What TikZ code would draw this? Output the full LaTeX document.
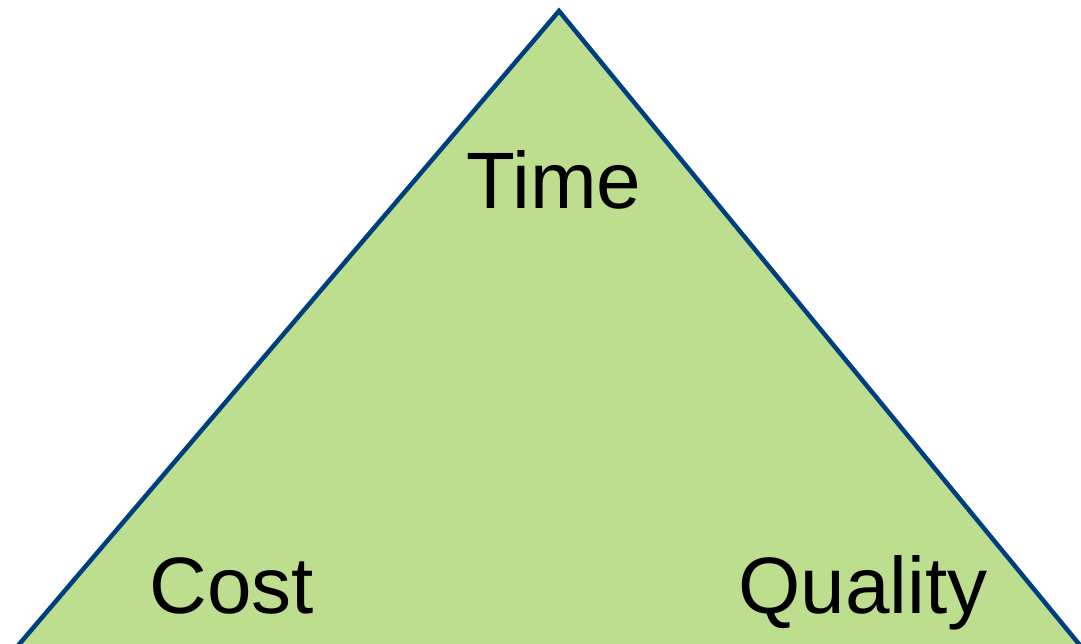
\documentclass[tikz,border=0pt]{standalone}
\usepackage{fontspec}
\setmainfont{Liberation Sans}
\definecolor{trifill}{HTML}{BDDD8F}
\definecolor{triline}{HTML}{003F7F}
\begin{document}
\begin{tikzpicture}[x=1pt,y=-1pt,
  lbl/.style={anchor=base,inner sep=0pt,font=\fontsize{80}{96}\selectfont}]
\useasboundingbox (0,0) rectangle (1081,643);
\coordinate (top) at (559,11);
\coordinate (bl) at (10,655);
\coordinate (br) at (1088,655);
\begin{scope}
\clip (0,0) rectangle (1081,643);
\filldraw[fill=trifill,draw=triline,line width=4.5pt,line join=miter] (bl) -- (top) -- (br) -- cycle;
\end{scope}
\node[lbl] (time) at (554,208) {Time};
\node[lbl] (cost) at (232,613) {Cost};
\node[lbl] (quality) at (863,613) {Quality};
\end{tikzpicture}
\end{document}
